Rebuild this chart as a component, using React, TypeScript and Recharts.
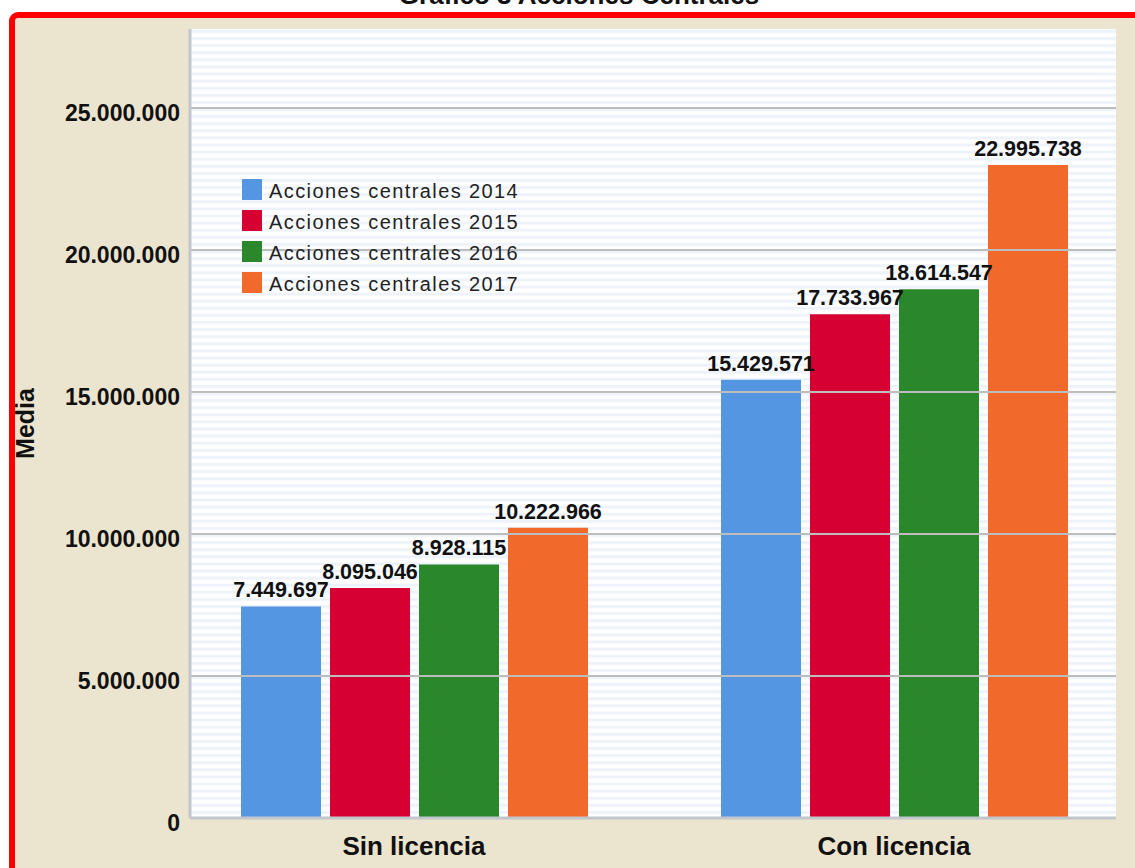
import React from 'react';
import { Bar, BarChart, CartesianGrid, LabelList, Legend, ReferenceLine, XAxis, YAxis } from 'recharts';

const categories = ['Sin licencia', 'Con licencia'];
const values2014 = [7449697, 15429571];
const values2015 = [8095046, 17733967];
const values2016 = [8928115, 18614547];
const values2017 = [10222966, 22995738];
const seriesKeys = ['a2014', 'a2015', 'a2016', 'a2017'];
const seriesNames = [
  'Acciones centrales 2014',
  'Acciones centrales 2015',
  'Acciones centrales 2016',
  'Acciones centrales 2017',
];
const seriesColors = ['#5596E3', '#D60032', '#2B872B', '#F2692C'];
const yTicks = [0, 5000000, 10000000, 15000000, 20000000, 25000000];

const data = categories.map((category, i) => ({
  category,
  a2014: values2014[i],
  a2015: values2015[i],
  a2016: values2016[i],
  a2017: values2017[i],
}));

const FONT = '"Liberation Sans", Arial, sans-serif';

const fmt = (v: number) => String(Math.round(v)).replace(/\B(?=(\d{3})+(?!\d))/g, '.');

const YTick = ({ x, y, payload }: any) => (
  <text x={x} y={y} dy={13} textAnchor="end" fontFamily={FONT} fontWeight="bold" fontSize={23} fill="#111">
    {fmt(payload.value)}
  </text>
);

const XTick = ({ x, y, payload }: any) => (
  <text x={x} y={y} dy={37} textAnchor="middle" fontFamily={FONT} fontWeight="bold" fontSize={26} fill="#111">
    {payload.value}
  </text>
);

const LegendBox = ({ payload }: any) => (
  <div style={{ fontFamily: FONT, fontSize: 20, letterSpacing: 1.4, color: '#222' }}>
    {(payload || []).map((entry: any) => (
      <div key={entry.value} style={{ display: 'flex', alignItems: 'center', height: 31 }}>
        <span style={{ width: 20, height: 21, background: entry.color, display: 'inline-block', marginRight: 7 }} />
        <span style={{ lineHeight: '21px', paddingTop: 4 }}>{entry.value}</span>
      </div>
    ))}
  </div>
);

export default function App() {
  return (
    <div style={{ position: 'absolute', left: 0, top: 0, width: 1135, height: 868, overflow: 'hidden', background: '#fff' }}>
      <div
        style={{
          position: 'absolute',
          left: 9,
          top: 12,
          width: 1200,
          height: 900,
          border: '6px solid #FF0000',
          borderRadius: 9,
          background: '#EBE4CF',
        }}
      />
      <div
        style={{
          position: 'absolute',
          left: 0,
          top: -18,
          width: 1158,
          textAlign: 'center',
          fontFamily: FONT,
          fontWeight: 'bold',
          fontSize: 26,
          lineHeight: '26px',
          color: '#111',
        }}
      >
        Gráfico 3 Acciones Centrales
      </div>
      <div style={{ position: 'absolute', left: 0, top: 0 }}>
        <BarChart
          width={1135}
          height={868}
          data={data}
          margin={{ top: 29, right: 19, bottom: 0, left: 0 }}
          barSize={80}
          barGap={9}
        >
          <defs>
            <pattern id="stripes" patternUnits="userSpaceOnUse" x={0} y={818} width={20} height={7.1}>
              <rect x={0} y={0} width={20} height={7.1} fill="#FFFFFF" />
              <rect x={0} y={0} width={20} height={3} fill="#EEF3FB" />
            </pattern>
          </defs>
          <CartesianGrid horizontal={false} vertical={false} fill="url(#stripes)" fillOpacity={1} />
          {yTicks.slice(1).map((t) => (
            <ReferenceLine key={t} y={t} stroke="#BDBDBD" strokeWidth={2} />
          ))}
          <XAxis
            dataKey="category"
            height={50}
            tickLine={false}
            tickSize={0}
            tickMargin={0}
            axisLine={{ stroke: '#C2C6CD', strokeWidth: 3 }}
            padding={{ left: -16, right: -18 }}
            tick={<XTick />}
            interval={0}
          />
          <YAxis
            width={190}
            domain={[0, 27780000]}
            ticks={yTicks}
            tickLine={false}
            tickSize={0}
            tickMargin={10}
            axisLine={{ stroke: '#C2C6CD', strokeWidth: 3 }}
            tick={<YTick />}
            interval={0}
            label={{
              value: 'Media',
              angle: -90,
              position: 'insideLeft',
              offset: 0,
              dx: 25,
              style: { fontFamily: FONT, fontWeight: 'bold', fontSize: 25, fill: '#111', textAnchor: 'middle' },
            }}
          />
          <Legend
            layout="vertical"
            align="center"
            verticalAlign="middle"
            wrapperStyle={{ left: 242, top: 174, width: 320, height: 130 }}
            content={<LegendBox />}
          />
          {seriesKeys.map((key, i) => (
            <Bar key={key} dataKey={key} name={seriesNames[i]} fill={seriesColors[i]} isAnimationActive={false}>
              <LabelList
                dataKey={key}
                position="top"
                offset={9}
                formatter={(v: any) => fmt(Number(v))}
                fontFamily={FONT}
                fontWeight="bold"
                fontSize={21.5}
                fill="#111"
              />
            </Bar>
          ))}
        </BarChart>
      </div>
    </div>
  );
}
